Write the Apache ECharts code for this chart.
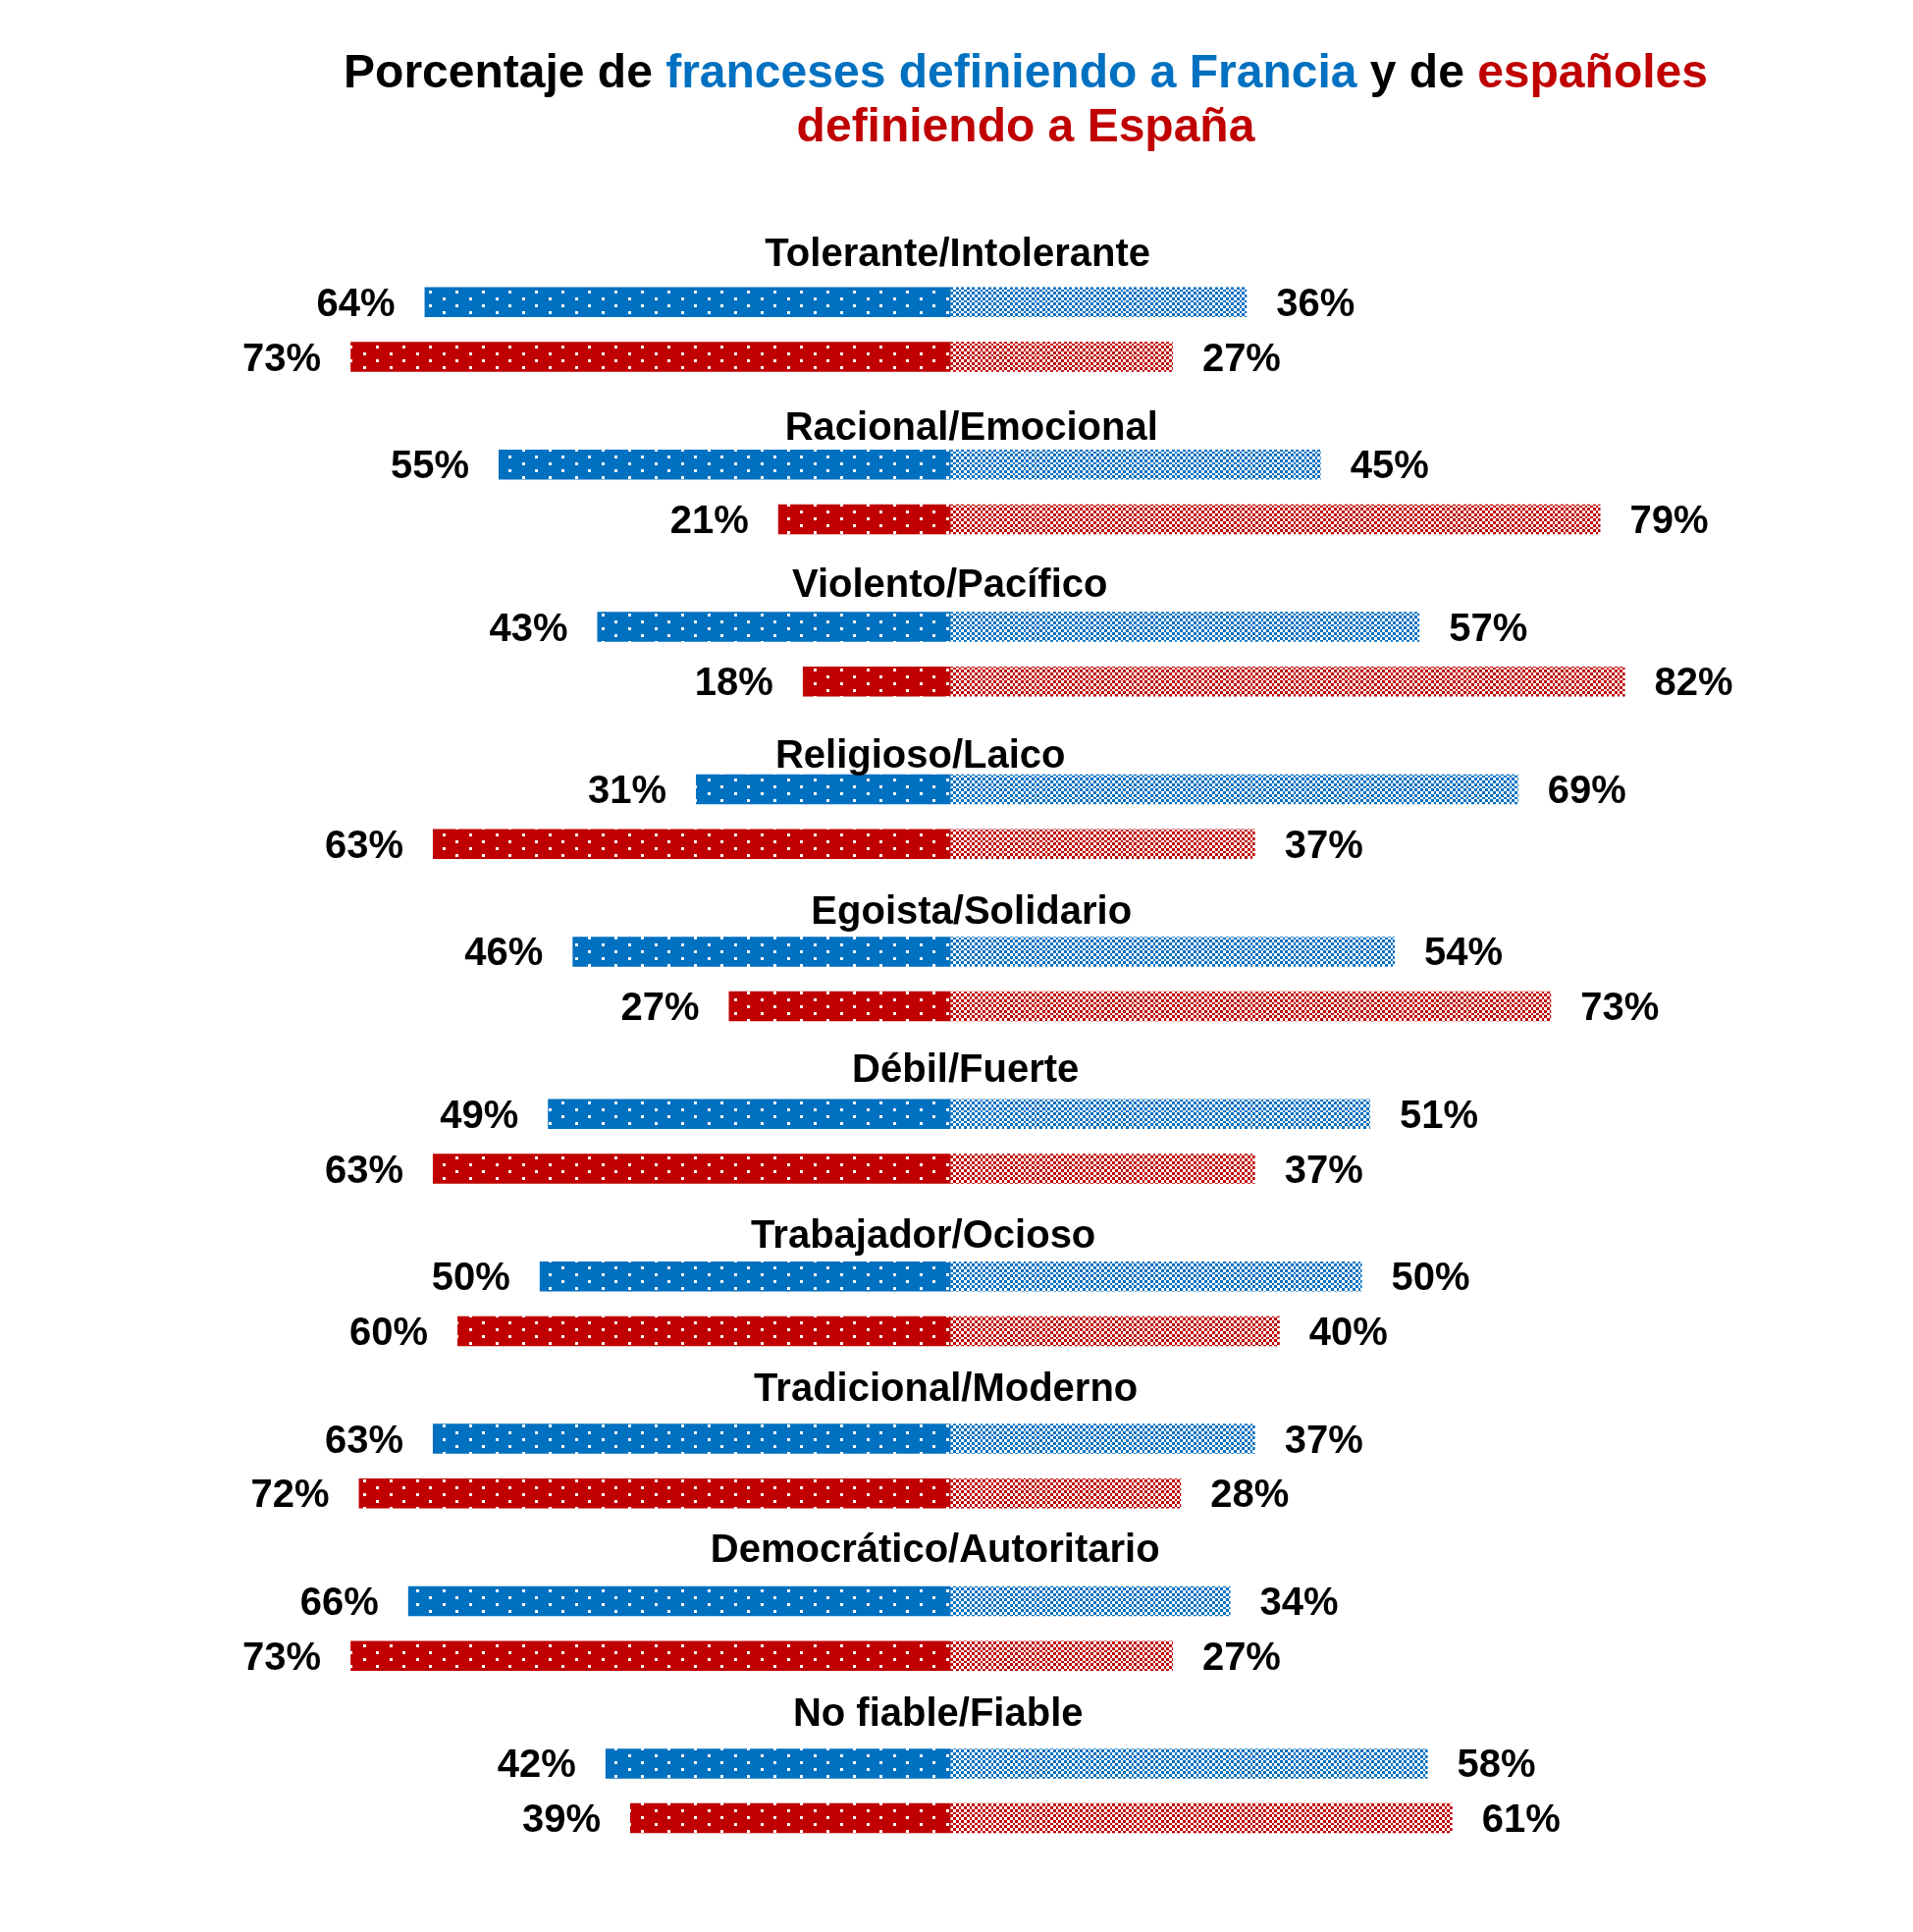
<!DOCTYPE html>
<html>
<head>
<meta charset="utf-8">
<script src="https://cdn.jsdelivr.net/npm/echarts@6/dist/echarts.min.js"></script>
<style>
html,body{margin:0;padding:0;background:#fff;}
#chart{width:1949px;height:1968px;}
</style>
</head>
<body>
<div id="chart"></div>
<script>
// ---- data ----
var categories = ['Tolerante/Intolerante','Racional/Emocional','Violento/Pacífico','Religioso/Laico','Egoista/Solidario','Débil/Fuerte','Trabajador/Ocioso','Tradicional/Moderno','Democrático/Autoritario','No fiable/Fiable'];
var franciaIzq = [64,55,43,31,46,49,50,63,66,42];
var franciaDer = [36,45,57,69,54,51,50,37,34,58];
var espanaIzq  = [73,21,18,63,27,63,60,72,73,39];
var espanaDer  = [27,79,82,37,73,37,40,28,27,61];

// ---- layout / style (label nudges in px) ----
var labelDx = [7,21,-1,-31,21,15,-28,-5,-16,-13];
var labelDy = [-48,-36,-42,-33,-39,-44,-40,-50,-51,-49];

var BLUE = '#0070C0', RED = '#C00000';
var FONT = "'Liberation Sans', Arial, sans-serif";

function dotPattern(color){
  var c = document.createElement('canvas'); c.width = 27; c.height = 14;
  var g = c.getContext('2d');
  g.fillStyle = color; g.fillRect(0,0,27,14);
  g.fillStyle = '#fff';
  g.fillRect(5,2,3,3); g.fillRect(19,9,3,3);
  return {image:c, repeat:'repeat'};
}
function checkPattern(color){
  var c = document.createElement('canvas'); c.width = 11; c.height = 11;
  var g = c.getContext('2d');
  g.fillStyle = '#fff'; g.fillRect(0,0,11,11);
  var b = [0,3,6,9,11];
  g.fillStyle = color;
  for (var i=0;i<4;i++) for (var j=0;j<4;j++) if ((i+j)%2===0)
    g.fillRect(b[i], b[j], b[i+1]-b[i], b[j+1]-b[j]);
  return {image:c, repeat:'repeat'};
}

var valLabel = function(pos){
  return {show:true, position:pos, distance:30, offset:[0,3], color:'#000', fontSize:40, fontWeight:'bold', fontFamily:FONT,
    formatter:function(p){return Math.abs(p.value)+'%';}};
};
var BW = 30.5, GAP = '82.6%';

var chart = echarts.init(document.getElementById('chart'), null, {renderer:'canvas'});
chart.setOption({
  animation:false,
  backgroundColor:'#fff',
  grid:{left:131, right:142.6, top:252.95, height:1654, containLabel:false},
  xAxis:{type:'value', min:-100, max:100, show:false},
  yAxis:{type:'category', data:categories, inverse:true, show:false},
  graphic:[{
    type:'text', x:1045, y:103, silent:true,
    style:{
      text:'{k|Porcentaje de }{b|franceses definiendo a Francia}{k| y de }{r|españoles}\n{r|definiendo a España}',
      align:'center', verticalAlign:'middle',
      font:"bold 48px 'Liberation Sans', Arial, sans-serif",
      rich:{
        k:{fill:'#000', fontSize:48, fontWeight:'bold', fontFamily:FONT, lineHeight:55},
        b:{fill:BLUE, fontSize:48, fontWeight:'bold', fontFamily:FONT, lineHeight:55},
        r:{fill:RED, fontSize:48, fontWeight:'bold', fontFamily:FONT, lineHeight:55}
      }
    }
  }],
  series:[
    {name:'Francia izq', type:'bar', stack:'fr', barWidth:BW, barGap:GAP, silent:true,
     data:franciaIzq.map(function(v){return -v;}), itemStyle:{color:dotPattern(BLUE)}, label:valLabel('left')},
    {name:'Francia der', type:'bar', stack:'fr', barWidth:BW, barGap:GAP, silent:true,
     data:franciaDer, itemStyle:{color:checkPattern(BLUE)}, label:valLabel('right')},
    {name:'España izq', type:'bar', stack:'es', barWidth:BW, barGap:GAP, silent:true,
     data:espanaIzq.map(function(v){return -v;}), itemStyle:{color:dotPattern(RED)}, label:valLabel('left')},
    {name:'España der', type:'bar', stack:'es', barWidth:BW, barGap:GAP, silent:true,
     data:espanaDer, itemStyle:{color:checkPattern(RED)}, label:valLabel('right')},
    {name:'categorías', type:'scatter', symbolSize:1, silent:true, z:10,
     itemStyle:{color:'rgba(0,0,0,0)', opacity:1},
     data:categories.map(function(c,i){
       return {value:[0,c], label:{offset:[labelDx[i], -27.85+labelDy[i]]}};
     }),
     label:{show:true, position:'inside', color:'#000', opacity:1, fontSize:40, fontWeight:'bold', fontFamily:FONT,
       formatter:function(p){return p.value[1];}}}
  ]
});
</script>
</body>
</html>
